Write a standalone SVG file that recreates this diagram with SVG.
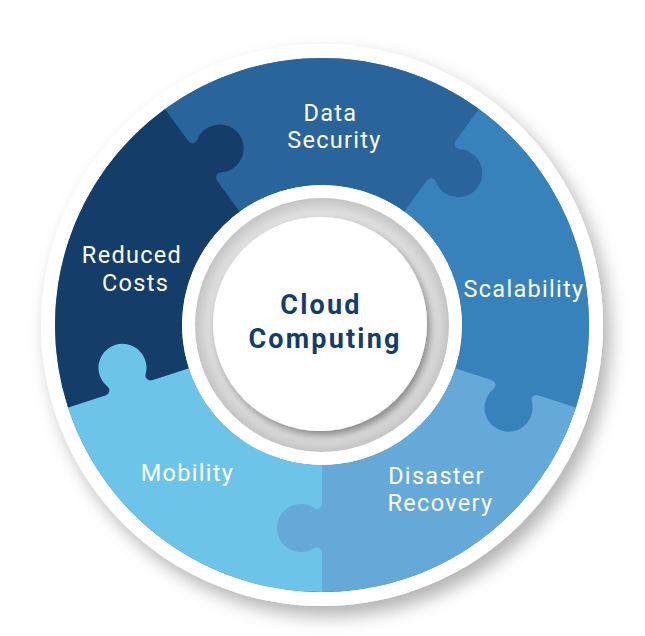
<svg xmlns="http://www.w3.org/2000/svg" width="645" height="636" viewBox="0 0 645 636">
  <defs>
    <filter id="outerShadow" x="-20%" y="-20%" width="140%" height="140%">
      <feDropShadow dx="7" dy="10" stdDeviation="9" flood-color="#000" flood-opacity="0.3"/>
    </filter>
    <filter id="innerShadow" x="-20%" y="-20%" width="140%" height="140%">
      <feDropShadow dx="3" dy="4" stdDeviation="4" flood-color="#000" flood-opacity="0.45"/>
    </filter>
    <radialGradient id="grayRing" cx="0.5" cy="0.5" r="0.5">
      <stop offset="0.8" stop-color="#f0f0f0"/>
      <stop offset="0.9" stop-color="#dcdcdc"/>
      <stop offset="1" stop-color="#c4c4c4"/>
    </radialGradient>
    <path id="knob" d="M -24.2 -1.5 L -24.2 0 A 5 5 0 0 1 -20.03 7.76 A 24 24 0 1 0 20.03 7.76 A 5 5 0 0 1 24.2 0 L 24.2 -1.5 Z"/>
  </defs>
  <style>
    .label { font-family: Roboto, "Liberation Sans", sans-serif; font-size: 23.5px; font-weight: 400; fill: #ffffff; text-anchor: middle; letter-spacing: 1.3px; }
    .center { font-family: Roboto, "Liberation Sans", sans-serif; font-size: 27px; font-weight: bold; fill: #143d6b; text-anchor: middle; letter-spacing: 2.2px; }
    .c-data { fill: #29649b; }
    .c-reduced { fill: #143e69; }
    .c-scal { fill: #3882bb; }
    .c-disaster { fill: #64a9d7; }
    .c-mobility { fill: #6cc4e9; }
  </style>

  <rect width="645" height="636" fill="#ffffff"/>

  <!-- outer white disk with shadow -->
  <circle cx="322" cy="325" r="281" fill="#ffffff" filter="url(#outerShadow)"/>

  <!-- base annulus to hide seams -->
  <path d="M 322 58 A 267 267 0 1 1 321.99 58 Z M 322 185 A 140 140 0 1 0 322.01 185 Z" fill="#3a7fb5" fill-rule="evenodd"/>

  <g id="piece-data-security">
    <path class="c-data" d="M 165.06 108.99 A 267 267 0 0 1 478.94 108.99 L 404.29 211.74 A 140 140 0 0 0 239.71 211.74 Z"/>
  </g>
  <g id="piece-scalability">
    <path class="c-scal" d="M 478.94 108.99 A 267 267 0 0 1 575.93 407.51 L 455.15 368.26 A 140 140 0 0 0 404.29 211.74 Z"/>
  </g>
  <g id="piece-disaster-recovery">
    <path class="c-disaster" d="M 575.93 407.51 A 267 267 0 0 1 322 592 L 322 465 A 140 140 0 0 0 455.15 368.26 Z"/>
  </g>
  <g id="piece-mobility">
    <path class="c-mobility" d="M 322 592 A 267 267 0 0 1 68.07 407.51 L 188.85 368.26 A 140 140 0 0 0 322 465 Z"/>
  </g>
  <g id="piece-reduced-costs">
    <path class="c-reduced" d="M 68.07 407.51 A 267 267 0 0 1 165.06 108.99 L 239.71 211.74 A 140 140 0 0 0 188.85 368.26 Z"/>
  </g>

  <!-- puzzle knobs -->
  <g id="knobs">
    <use href="#knob" class="c-scal" transform="translate(322 325) rotate(18) translate(203 0)"/>
    <use href="#knob" class="c-disaster" transform="translate(322 325) rotate(90) translate(203 0)"/>
    <use href="#knob" class="c-mobility" transform="translate(322 325) rotate(162) translate(203 0)"/>
    <use href="#knob" class="c-reduced" transform="translate(322 325) rotate(234) translate(203 0)"/>
    <use href="#knob" class="c-data" transform="translate(322 325) rotate(306) translate(203 0)"/>
  </g>

  <!-- center hub -->
  <g id="node-cloud-computing">
    <circle cx="322" cy="325" r="140" fill="#ffffff"/>
    <circle cx="322" cy="325" r="127" fill="url(#grayRing)"/>
    <circle cx="320" cy="324" r="107" fill="#ffffff" filter="url(#innerShadow)"/>
    <text class="center" x="321" y="314">Cloud</text>
    <text class="center" x="325" y="348">Computing</text>
  </g>

  <!-- labels -->
  <g id="labels">
    <text class="label" x="330.5" y="121">Data</text>
    <text class="label" x="334.5" y="148">Security</text>
    <text class="label" x="524" y="297">Scalability</text>
    <text class="label" x="132" y="263">Reduced</text>
    <text class="label" x="135.5" y="291">Costs</text>
    <text class="label" x="187.5" y="481">Mobility</text>
    <text class="label" x="436.5" y="484">Disaster</text>
    <text class="label" x="440.5" y="511">Recovery</text>
  </g>
</svg>
